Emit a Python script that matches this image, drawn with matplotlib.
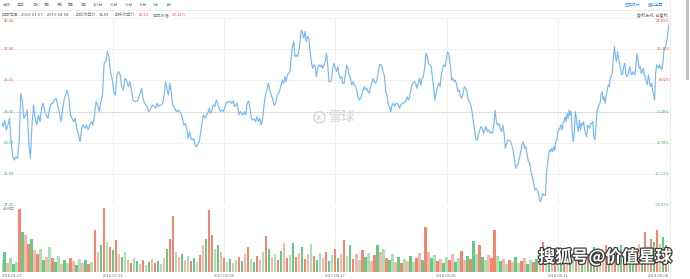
import numpy as np
import matplotlib.pyplot as plt
import matplotlib.patheffects as pe
from matplotlib.lines import Line2D
from matplotlib.patches import Rectangle
from matplotlib.transforms import blended_transform_factory

plt.rcParams['font.family'] = ['Noto Sans CJK SC', 'DejaVu Sans']

# ---------------- data ----------------
n_days = 790  # trading days 2016-01-07 .. 2019-04-08

date_labels = ['2016-01-07', '2016-07-21', '2017-02-08', '2017-08-17',
               '2018-03-05', '2018-09-11', '2019-04-08']

price_levels = [40.68, 37.94, 35.21, 32.47, 29.73, 26.99, 24.26]
pct_labels = ['24.81%', '16.42%', '8.02%', '-0.38%', '-8.78%', '-17.17%', '-25.57%']
base_price = 32.47
vol_max = 4.83  # 亿

# close prices, traced in five stretches (first / last trading day of each)
seg_days = [(0, 163), (164, 322), (323, 481), (482, 641), (643, 789)]

close_1 = [31.58, 31.14, 31.72, 30.85, 31.28, 31.87, 29.82, 28.50, 28.21, 28.50,
           28.36, 29.82, 34.07, 33.33, 31.87, 32.16, 32.60, 29.82, 28.36, 31.28,
           33.04, 31.87, 31.28, 32.16, 31.58, 32.75, 33.19, 32.46, 32.16, 31.87,
           32.75, 33.19, 33.19, 33.48, 33.63, 33.04, 32.46, 31.58, 32.46, 33.48,
           33.92, 34.36, 33.63, 32.16, 31.87, 31.58, 31.87, 30.99, 30.41, 29.82,
           30.99, 31.28, 30.99, 31.28, 30.85, 31.28, 31.58, 31.28, 32.16, 33.33,
           33.04, 32.46, 33.33, 33.92, 36.70, 36.85, 37.73, 37.29, 35.82, 35.38,
           34.21, 33.92, 35.68, 35.97, 35.68, 34.65, 34.36, 35.38, 35.24, 34.65,
           35.09, 34.36, 33.48, 33.33, 33.39, 33.39, 33.92]

close_2 = [34.07, 34.51, 33.63, 33.19, 33.04, 32.90, 32.46, 32.60, 32.90, 33.04,
           32.90, 32.75, 33.19, 32.90, 33.04, 33.04, 33.19, 33.92, 35.09, 34.51,
           33.92, 34.95, 34.21, 33.04, 32.90, 32.60, 32.46, 32.60, 32.46, 32.31,
           31.87, 31.28, 31.43, 30.99, 30.11, 30.70, 30.11, 29.97, 30.11, 29.53,
           29.38, 29.67, 29.82, 30.70, 31.58, 32.16, 31.87, 32.16, 32.31, 32.75,
           32.31, 32.60, 33.04, 32.90, 33.48, 33.19, 32.75, 32.46, 32.60, 32.46,
           32.75, 33.19, 33.33, 33.28, 33.39, 33.19, 33.39, 32.90, 33.04, 33.19,
           32.16, 32.46, 32.31, 32.16, 32.46, 32.16, 33.19, 33.39, 32.75, 31.87,
           31.72, 31.81, 31.58, 32.02, 31.58, 31.87, 31.28, 31.87, 33.04, 33.92,
           34.36, 34.95, 34.36, 33.92, 33.63, 33.04]

close_3 = [33.04, 33.33, 33.92, 34.07, 34.36, 34.80, 35.24, 34.95, 35.53, 35.09,
           35.68, 35.82, 35.97, 37.14, 38.17, 38.61, 37.29, 37.44, 37.29, 37.73,
           38.61, 39.63, 39.34, 38.90, 39.49, 38.61, 39.05, 38.90, 37.73, 36.85,
           36.26, 36.56, 36.41, 35.53, 36.26, 36.56, 36.41, 36.56, 36.26, 36.56,
           36.85, 37.58, 36.56, 35.09, 35.09, 35.24, 36.26, 36.70, 36.26, 35.97,
           36.41, 35.68, 35.38, 35.53, 34.95, 34.95, 35.68, 36.56, 36.26, 35.68,
           35.38, 34.80, 35.09, 34.80, 34.65, 34.36, 33.77, 33.48, 33.63, 33.92,
           34.36, 34.65, 34.36, 34.51, 34.21, 34.07, 34.65, 34.95, 35.38, 35.09,
           34.95, 35.24, 35.82, 36.56, 36.62, 36.41, 35.97, 35.53, 34.21, 33.92,
           33.04, 32.90, 32.46, 33.04, 33.19, 32.90, 33.19, 33.19, 33.04, 32.75,
           33.04, 33.19, 33.19, 33.33, 33.39, 33.77, 33.48]

close_4 = [33.63, 34.21, 34.80, 34.95, 35.09, 34.95, 34.51,
           34.95, 35.38, 34.80, 35.38, 35.53, 36.26, 37.58, 37.29, 36.70, 36.56,
           36.41, 35.53, 34.51, 33.48, 34.07, 34.65, 34.95, 34.65, 35.68, 36.26,
           36.56, 36.41, 37.14, 37.73, 37.44, 36.56, 35.24, 35.38, 35.09, 35.24,
           34.80, 34.21, 34.36, 33.77, 33.63, 34.07, 34.65, 34.51, 34.21, 33.48,
           33.33, 33.04, 32.46, 31.58, 30.85, 29.97, 29.97, 30.41, 30.85, 31.14,
           30.99, 30.55, 30.85, 31.14, 30.70, 30.85, 30.55, 30.70, 30.55, 31.28,
           32.60, 31.58, 31.28, 31.43, 30.99, 30.70, 31.28, 30.55, 29.23, 29.67,
           29.97, 29.97, 29.82, 29.53, 29.09, 28.36, 27.48, 27.77, 27.92, 28.36,
           28.94, 29.53, 29.82, 29.23, 29.38, 28.65, 28.06, 27.92, 27.18, 26.74,
           26.31, 25.57, 25.72, 25.57, 25.13, 24.55, 24.69, 25.28, 25.13]

close_5 = [25.13, 27.18, 27.77, 28.65, 29.09, 28.94, 29.23, 28.94, 29.38, 29.09,
           29.82, 29.97, 30.70, 30.85, 30.99, 31.28, 30.85, 31.43, 31.58, 32.02,
           31.58, 32.31, 31.87, 32.60, 32.16, 32.46, 30.70, 29.82, 30.70, 32.46,
           31.87, 31.14, 30.70, 31.72, 30.85, 31.43, 31.28, 31.58, 30.85, 30.55,
           30.26, 31.28, 31.14, 30.99, 31.43, 31.43, 31.58, 30.26, 29.97, 30.99,
           32.46, 32.75, 33.04, 33.19, 33.92, 34.21, 33.48, 33.77, 33.19, 33.92,
           34.36, 34.80, 34.65, 35.53, 35.53, 35.97, 37.29, 38.17, 37.29, 36.85,
           37.73, 37.14, 36.70, 36.12, 35.68, 35.82, 36.41, 36.70, 35.82, 35.53,
           35.68, 35.97, 36.41, 35.82, 35.68, 35.97, 35.82, 35.68, 36.70, 37.58,
           36.85, 36.26, 36.41, 35.82, 35.97, 36.26, 35.68, 35.53, 35.09, 34.80,
           35.68, 35.09, 34.65, 34.95, 34.36, 33.92, 33.48, 35.82, 36.56, 36.41,
           36.26, 36.56, 36.26, 36.12, 36.70, 37.73, 38.02, 38.31, 38.75, 39.49,
           40.19]

# volume (亿), sampled evenly over the period
volume = [0.91, 1.51, 0.68, 1.06, 0.60, 0.76, 4.76, 3.02, 2.79, 2.11,
          2.49, 1.66, 1.36, 1.74, 0.91, 1.13, 1.89, 1.06, 0.76, 1.21,
          0.60, 0.91, 0.68, 1.06, 0.83, 0.53, 0.98, 0.68, 0.91, 0.60,
          0.76, 3.17, 1.51, 2.04, 4.83, 2.27, 1.89, 1.66, 2.42, 1.36,
          1.13, 1.51, 0.91, 0.68, 1.06, 0.83, 0.60, 0.91, 0.53, 0.76,
          0.98, 0.68, 0.83, 0.60, 1.06, 1.74, 2.49, 4.23, 1.51, 1.13,
          1.36, 0.91, 1.21, 0.83, 1.06, 0.76, 1.28, 2.04, 2.49, 4.68,
          2.79, 1.74, 2.04, 1.51, 1.06, 0.76, 0.98, 0.68, 0.91, 1.13,
          0.83, 1.36, 1.89, 0.98, 0.76, 1.21, 0.91, 1.51, 2.72, 1.74,
          1.13, 1.36, 0.91, 1.59, 2.19, 1.06, 1.28, 2.19, 1.13, 1.43,
          1.89, 0.98, 1.36, 2.11, 1.21, 0.91, 1.43, 1.06, 1.51, 0.83,
          1.28, 1.74, 1.06, 1.36, 2.42, 1.21, 2.04, 0.98, 1.36, 0.91,
          1.66, 1.13, 1.43, 0.83, 1.28, 2.04, 1.51, 1.74, 1.06, 0.91,
          1.36, 0.76, 1.13, 0.68, 0.98, 0.83, 1.21, 0.76, 1.06, 1.43,
          0.91, 3.40, 1.51, 1.06, 1.28, 0.83, 0.98, 0.68, 1.13, 0.91,
          1.36, 0.76, 1.06, 1.59, 0.91, 1.21, 0.98, 2.34, 1.36, 2.04,
          1.13, 0.91, 1.28, 1.06, 3.17, 1.21, 0.83, 0.98, 0.60, 0.91,
          0.76, 1.13, 0.68, 0.83, 1.06, 0.60, 0.91, 0.76, 0.98, 1.36,
          2.27, 1.13, 0.91, 1.36, 1.06, 1.51, 0.83, 1.21, 0.98, 1.66,
          1.13, 1.43, 0.91, 1.28, 1.59, 1.06, 1.43, 1.89, 1.21, 1.51,
          1.06, 2.04, 1.36, 1.74, 1.13, 1.59, 2.04, 1.28, 1.66, 1.43,
          1.89, 1.21, 2.11, 1.66, 3.02, 1.96, 2.49, 2.27, 3.17, 2.11,
          2.64, 2.04, 1.59]

# R/r = up day (strong/light), G/g = down day
vol_updown = ('gGrgGgRGrR' 'GrRgGrgRGg' 'rGgRrGgrGR' 'gRrGRgRGRr' 'GgrRgGrRgG'
              'rRGgrGRRgr' 'GrgRGgRrGR' 'RgGrRgGrgR' 'GrRgGRrgRG' 'rgRGrRgGRr'
              'GRrgRGgrRG' 'gRGrRgGRrg' 'RGgrRGrgRG' 'grGRgrGgRr' 'GRrGgRrGgR'
              'rGgRrGRGgR' 'GgrRRgGrgR' 'rGgRrGgRGr' 'RgGrRgGRrG' 'gRrGgRGGRg'
              'rRGrRgGRrG' 'GRrGRgRGRr' 'GRg')

toolbar = ['分时', '五日', '日K', '周K', '月K', '季K', '年K',
           '120分', '60分', '30分', '15分', '5分', '1分']

# ---------------- drawing ----------------
W, H = 690, 279
RED = '#f0503c'
GREEN = '#3cb95a'
GRID = '#efefef'


def fx(x):
    return x / W


def fy(y):
    return 1 - y / H


fig = plt.figure(figsize=(W / 100, H / 100), dpi=100)
fig.patch.set_facecolor('white')

left, right = 1.5, 669.0
ax = fig.add_axes([fx(left), fy(205), (right - left) / W, 187 / H])
axv = fig.add_axes([fx(left), fy(272), (right - left) / W, 64 / H])
for a in (ax, axv):
    a.axis('off')
    a.set_xlim(0, n_days - 1)
ax.set_ylim(price_levels[-1], price_levels[0])
axv.set_ylim(0, vol_max)

tick_pos = np.linspace(0, n_days - 1, len(date_labels))

# grid
for lv in price_levels:
    ax.axhline(lv, color=GRID, lw=0.6, zorder=0)
ax.axhline(base_price, color='#c9c9c9', lw=0.7, ls=(0, (1.2, 1.2)), zorder=1)
for t in tick_pos[1:]:
    ax.axvline(t, color=GRID, lw=0.6, zorder=0)
    axv.axvline(t, color=GRID, lw=0.6, zorder=0)
axv.axhline(0, color='#e4e4e4', lw=0.6, zorder=0)

# price line
xs, ys = [], []
for seg, (d0, d1) in zip([close_1, close_2, close_3, close_4, close_5], seg_days):
    xs.extend(np.linspace(d0, d1, len(seg)))
    ys.extend(seg)
ax.plot(xs, ys, color='#78b9f5', lw=0.85, zorder=3)

# volume bars
bar_colors = {'R': '#f3866f', 'r': '#f7b8ab', 'G': '#68c885', 'g': '#aadfb8'}
vx = np.linspace(0, n_days - 1, len(volume))
step = vx[1] - vx[0]
axv.bar(vx, volume, width=step * 0.8,
        color=[bar_colors[c] for c in vol_updown[:len(volume)]], linewidth=0)

# axis labels inside the plot
num_font = dict(family='Liberation Sans', fontsize=3)
tl = blended_transform_factory(ax.transAxes, ax.transData)
for i, (lv, pct) in enumerate(zip(price_levels, pct_labels)):
    col = RED if lv > base_price else GREEN
    va = 'top' if i == 0 else 'center'
    yv = lv - 0.12 if i == 0 else lv
    ax.text(0.003, yv, f'{lv:.2f}', transform=tl, ha='left', va=va,
            color=col, clip_on=False, **num_font)
    ax.text(1.0015, yv, pct, transform=tl, ha='right', va=va,
            color=col, clip_on=False, **num_font)

fig.text(fx(3), fy(207.5), f'{vol_max:.2f}亿', ha='left', va='top',
         fontsize=3, color='#666666', family=['Liberation Sans', 'Noto Sans CJK SC'])

tv = blended_transform_factory(axv.transData, axv.transAxes)
for i, (t, lab) in enumerate(zip(tick_pos, date_labels)):
    ha = 'left' if i == 0 else ('right' if i == len(date_labels) - 1 else 'center')
    axv.text(t, -0.055, lab, transform=tv, ha=ha, va='center',
             color='#777777', clip_on=False, **num_font)

# header rows
tool_x = [3, 17, 32, 44, 57, 68, 81, 93, 110, 125, 139, 153, 166]
for x, lab in zip(tool_x, toolbar):
    fig.text(fx(x), fy(5), lab, ha='left', va='center', fontsize=2.8, color='#777777')
fig.text(fx(625), fy(5), '区间统计', ha='left', va='center', fontsize=2.8, color='#3d8be0')
fig.text(fx(648), fy(5), '退出全屏', ha='left', va='center', fontsize=2.8, color='#3d8be0')

row2 = [(2, '区间范围:', '#888888'), (21, '2016-01-07 ~ 2019-04-08', '#555555'),
        (76, '期初收盘价:', '#888888'), (99, '32.59', '#444444'),
        (115, '期末收盘价:', '#888888'), (139, '40.19', RED),
        (153, '区间涨幅:', '#888888'), (172, '23.32%', RED)]
for x, s, c in row2:
    fig.text(fx(x), fy(14.5), s, ha='left', va='center', fontsize=3, color=c)
fig.text(fx(668), fy(14.5), '复权方式: 前复权', ha='right', va='center',
         fontsize=3, color='#666666')

fig.add_artist(Line2D([0, fx(670)], [fy(9.5), fy(9.5)], transform=fig.transFigure,
                      color='#e6e6e6', lw=0.6))
fig.add_artist(Line2D([fx(670), fx(670)], [0, 1], transform=fig.transFigure,
                      color='#e8e8e8', lw=0.6))

# scrollbar
fig.add_artist(Rectangle((fx(685.5), fy(80)), 3.5 / W, 80 / H, transform=fig.transFigure,
                         facecolor='#c4c4c4', edgecolor='none'))

# watermarks
fig.add_artist(Line2D([fx(319)], [fy(117)], transform=fig.transFigure, marker='o',
                      markersize=8, mfc='none', mec='#dcdcdc', mew=1.3))
fig.text(fx(319), fy(117), 'x', ha='center', va='center', fontsize=6,
         color='#dcdcdc', weight='bold', family='DejaVu Sans')
fig.text(fx(328), fy(117), '雪球', ha='left', va='center', fontsize=9.5,
         color='#dcdcdc', weight='bold')
fig.text(fx(605), fy(257), '搜狐号@价值星球', ha='center', va='center', fontsize=12,
         color='white', weight='bold', style='italic',
         path_effects=[pe.withStroke(linewidth=1.8, foreground='#3c3c3c')])

fig.savefig('out.png', dpi=100, facecolor='white')
